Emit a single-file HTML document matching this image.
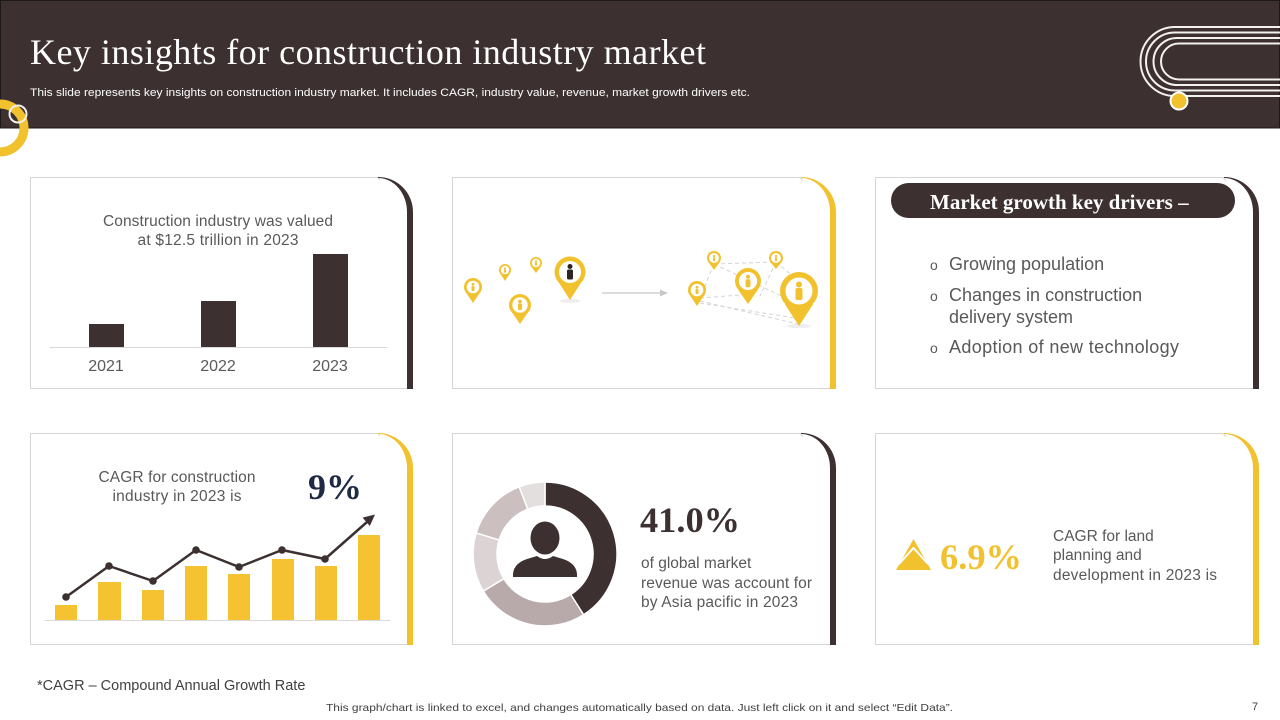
<!DOCTYPE html>
<html><head><meta charset="utf-8"><style>
html,body{margin:0;padding:0;background:#fff;}
svg{display:block;}
.s{font-family:"Liberation Sans",Arial,sans-serif;}
.r{font-family:"Liberation Serif","Times New Roman",serif;}
</style></head><body>
<svg width="1280" height="720" viewBox="0 0 1280 720" xmlns="http://www.w3.org/2000/svg">
<rect width="1280" height="720" fill="#fff"/>
<!-- header -->
<rect x="0.5" y="0.5" width="1279" height="127.5" fill="#3c3030" stroke="#1e1a1a" stroke-width="1"/>
<text x="30" y="64" class="r" font-size="36" fill="#fff" textLength="676" lengthAdjust="spacing">Key insights for construction industry market</text>
<text x="30" y="96" class="s" font-size="11" fill="#fff" textLength="720" lengthAdjust="spacingAndGlyphs">This slide represents key insights on construction industry market. It includes CAGR, industry value, revenue, market growth drivers etc.</text>
<!-- right decoration -->
<g fill="none" stroke="#f4f0ee" stroke-width="2">
<path d="M1280 27 H1175 A34.5 34.5 0 0 0 1175 96 H1280"/>
<path d="M1280 32.5 H1175 A29 29 0 0 0 1175 90.5 H1280"/>
<path d="M1280 38 H1177 A23.5 23.5 0 0 0 1177 85 H1280"/>
<path d="M1280 43.5 H1179 A18 18 0 0 0 1179 79.5 H1280"/>
</g>
<circle cx="1179" cy="101" r="8.5" fill="#f2c12e" stroke="#fff" stroke-width="2"/>
<!-- left decoration -->
<circle cx="0" cy="128" r="24" fill="none" stroke="#f2c12e" stroke-width="9"/>
<circle cx="18" cy="114" r="8.5" fill="none" stroke="#f4f0ee" stroke-width="2"/>

<!-- cards -->
<g fill="#fff" stroke="#d6d6d6" stroke-width="1">
<path d="M378 177.5 H30.5 V388.5 H410 V212 Z"/>
<path d="M800 177.5 H452.5 V388.5 H833 V212 Z"/>
<path d="M1223 177.5 H875.5 V388.5 H1256 V212 Z"/>
<path d="M378 433.5 H30.5 V644.5 H410 V468 Z"/>
<path d="M800 433.5 H452.5 V644.5 H833 V468 Z"/>
<path d="M1223 433.5 H875.5 V644.5 H1256 V468 Z"/>
</g>
<g fill="#fff">
<path d="M378 178 A31 34 0 0 1 409 212 V388 H380 V178Z"/>
<path d="M801 178 A31 34 0 0 1 832 212 V388 H803 V178Z"/>
<path d="M1224 178 A31 34 0 0 1 1255 212 V388 H1226 V178Z"/>
<path d="M378 434 A31 34 0 0 1 409 468 V644 H380 V434Z"/>
<path d="M801 434 A31 34 0 0 1 832 468 V644 H803 V434Z"/>
<path d="M1224 434 A31 34 0 0 1 1255 468 V644 H1226 V434Z"/>
</g>
<path d="M378 177 A35 35 0 0 1 413 212 V389 H407 V212 A29 34 0 0 0 378 178Z" fill="#3c3030"/>
<path d="M801 177 A35 35 0 0 1 836 212 V389 H830 V212 A29 34 0 0 0 801 178Z" fill="#f2c12e"/>
<path d="M1224 177 A35 35 0 0 1 1259 212 V389 H1253 V212 A29 34 0 0 0 1224 178Z" fill="#3c3030"/>
<path d="M378 433 A35 35 0 0 1 413 468 V645 H407 V468 A29 34 0 0 0 378 434Z" fill="#f2c12e"/>
<path d="M801 433 A35 35 0 0 1 836 468 V645 H830 V468 A29 34 0 0 0 801 434Z" fill="#3c3030"/>
<path d="M1224 433 A35 35 0 0 1 1259 468 V645 H1253 V468 A29 34 0 0 0 1224 434Z" fill="#f2c12e"/>

<!-- card 1 -->
<text x="218" y="226" class="s" font-size="15.5" fill="#595959" text-anchor="middle" textLength="230" lengthAdjust="spacing">Construction industry was valued</text>
<text x="218" y="245" class="s" font-size="15.5" fill="#595959" text-anchor="middle" textLength="161" lengthAdjust="spacing">at $12.5 trillion in 2023</text>
<rect x="89" y="324" width="35" height="23" fill="#3c3030"/>
<rect x="201" y="301" width="35" height="46" fill="#3c3030"/>
<rect x="313" y="254" width="35" height="93" fill="#3c3030"/>
<line x1="50" y1="347.5" x2="387" y2="347.5" stroke="#d9d9d9" stroke-width="1"/>
<g class="s" font-size="16" fill="#595959" text-anchor="middle">
<text x="106" y="371">2021</text><text x="218" y="371">2022</text><text x="330" y="371">2023</text>
</g>

<!-- card 2 pins -->
<g stroke="#d4d4d4" stroke-width="1" stroke-dasharray="4 3" fill="none">
<line x1="714" y1="264" x2="776" y2="262"/>
<line x1="714" y1="264" x2="700" y2="298"/>
<line x1="776" y1="262" x2="760" y2="296"/>
<line x1="714" y1="264" x2="790" y2="300"/>
<line x1="776" y1="262" x2="795" y2="278"/>
<line x1="700" y1="301" x2="798" y2="324"/>
<line x1="700" y1="303" x2="795" y2="318"/>
<line x1="700" y1="298" x2="740" y2="295"/>
</g>
<line x1="602" y1="293" x2="664" y2="293" stroke="#c8c8c8" stroke-width="1.2"/>
<polygon points="668,293 660,289.5 660,296.5" fill="#c8c8c8"/>
<g fill="#eeeeee">
<ellipse cx="570" cy="301" rx="10" ry="2"/><ellipse cx="799" cy="326" rx="12" ry="2.2"/>
</g>
<g id="pins">
<circle cx="473" cy="287" r="9" fill="#f2c12e"/><polygon points="466.3,293 479.7,293 473,303" fill="#f2c12e"/><circle cx="473" cy="287" r="6.3" fill="#fff"/><circle cx="473" cy="284.3" r="1.4" fill="#f2c12e"/><rect x="471.5" y="286" width="3" height="5" rx="1" fill="#f2c12e"/>
<circle cx="505" cy="270" r="6" fill="#f2c12e"/><polygon points="500.5,274 509.5,274 505,281" fill="#f2c12e"/><circle cx="505" cy="270" r="4.2" fill="#fff"/><circle cx="505" cy="268.2" r="1" fill="#f2c12e"/><rect x="504" y="269.3" width="2" height="3.3" fill="#f2c12e"/>
<circle cx="536" cy="263" r="6" fill="#f2c12e"/><polygon points="531.5,267 540.5,267 536,273" fill="#f2c12e"/><circle cx="536" cy="263" r="4.2" fill="#fff"/><circle cx="536" cy="261.2" r="1" fill="#f2c12e"/><rect x="535" y="262.3" width="2" height="3.3" fill="#f2c12e"/>
<circle cx="520" cy="305" r="11" fill="#f2c12e"/><polygon points="511.8,312 528.2,312 520,324" fill="#f2c12e"/><circle cx="520" cy="305" r="7.7" fill="#fff"/><circle cx="520" cy="301.5" r="1.8" fill="#f2c12e"/><rect x="518" y="303.5" width="4" height="6.5" rx="1" fill="#f2c12e"/>
<circle cx="570" cy="272" r="15.5" fill="#f2c12e"/><polygon points="558.5,282 581.5,282 570,300" fill="#f2c12e"/><circle cx="570" cy="272" r="11" fill="#fff"/><circle cx="570" cy="266.5" r="2.5" fill="#2b2424"/><rect x="567" y="269.5" width="6" height="10" rx="1.5" fill="#2b2424"/>
<circle cx="697" cy="290" r="9" fill="#f2c12e"/><polygon points="690.3,296 703.7,296 697,306" fill="#f2c12e"/><circle cx="697" cy="290" r="6.3" fill="#fff"/><circle cx="697" cy="287.3" r="1.4" fill="#f2c12e"/><rect x="695.5" y="289" width="3" height="5" rx="1" fill="#f2c12e"/>
<circle cx="714" cy="258" r="7" fill="#f2c12e"/><polygon points="708.8,262.5 719.2,262.5 714,270" fill="#f2c12e"/><circle cx="714" cy="258" r="4.9" fill="#fff"/><circle cx="714" cy="256" r="1.1" fill="#f2c12e"/><rect x="713" y="257.3" width="2" height="3.8" fill="#f2c12e"/>
<circle cx="748" cy="281" r="13" fill="#f2c12e"/><polygon points="738.3,290 757.7,290 748,304" fill="#f2c12e"/><circle cx="748" cy="281" r="9.1" fill="#fff"/><circle cx="748" cy="276.8" r="2" fill="#f2c12e"/><rect x="745.6" y="279.2" width="4.8" height="8" rx="1.2" fill="#f2c12e"/>
<circle cx="776" cy="258" r="7" fill="#f2c12e"/><polygon points="770.8,262.5 781.2,262.5 776,269" fill="#f2c12e"/><circle cx="776" cy="258" r="4.9" fill="#fff"/><circle cx="776" cy="256" r="1.1" fill="#f2c12e"/><rect x="775" y="257.3" width="2" height="3.8" fill="#f2c12e"/>
<circle cx="799" cy="291" r="19" fill="#f2c12e"/><polygon points="784.8,304 813.2,304 799,326" fill="#f2c12e"/><circle cx="799" cy="291" r="13.5" fill="#fff"/><circle cx="799" cy="284.5" r="3" fill="#f2c12e"/><rect x="795.5" y="288" width="7" height="12" rx="2" fill="#f2c12e"/>
</g>

<!-- card 3 -->
<rect x="891" y="183" width="344" height="35" rx="17.5" fill="#3c3030"/>
<text x="930" y="209" class="r" font-size="21" font-weight="bold" fill="#fff">Market growth key drivers –</text>
<g class="s" font-size="18" fill="#595959">
<text x="930" y="270" font-size="14">o</text><text x="949" y="270">Growing population</text>
<text x="930" y="301" font-size="14">o</text><text x="949" y="301">Changes in construction</text>
<text x="949" y="323">delivery system</text>
<text x="930" y="353" font-size="14">o</text><text x="949" y="353" textLength="230" lengthAdjust="spacing">Adoption of new technology</text>
</g>

<!-- card 4 -->
<text x="177" y="482" class="s" font-size="15.5" fill="#595959" text-anchor="middle" textLength="157" lengthAdjust="spacing">CAGR for construction</text>
<text x="177" y="501" class="s" font-size="15.5" fill="#595959" text-anchor="middle" textLength="129" lengthAdjust="spacing">industry in 2023 is</text>
<text x="308" y="499" class="r" font-size="36" font-weight="bold" fill="#1f2a44" textLength="54" lengthAdjust="spacingAndGlyphs">9%</text>
<g fill="#f5c232">
<rect x="55" y="605" width="22" height="15"/>
<rect x="98" y="582" width="23" height="38"/>
<rect x="142" y="590" width="22" height="30"/>
<rect x="185" y="566" width="22" height="54"/>
<rect x="228" y="574" width="22" height="46"/>
<rect x="272" y="559" width="22" height="61"/>
<rect x="315" y="566" width="22" height="54"/>
<rect x="358" y="535" width="22" height="85"/>
</g>
<line x1="45" y1="620.5" x2="390" y2="620.5" stroke="#d9d9d9" stroke-width="1"/>
<polyline points="66,597 109,566 153,581 196,550 239,567 282,550 325,559 367,522" fill="none" stroke="#3c3030" stroke-width="2.5" stroke-linejoin="round"/>
<polygon points="375,514.5 369.8,526 362.6,517.6" fill="#3c3030"/>
<g fill="#3c3030">
<circle cx="66" cy="597" r="3.8"/><circle cx="109" cy="566" r="3.8"/><circle cx="153" cy="581" r="3.8"/><circle cx="196" cy="550" r="3.8"/><circle cx="239" cy="567" r="3.8"/><circle cx="282" cy="550" r="3.8"/><circle cx="325" cy="559" r="3.8"/>
</g>

<!-- card 5 donut -->
<g stroke="#fff" stroke-width="1.5" stroke-linejoin="round">
<path d="M545,482 A72,72 0 0 1 583.58,614.79 L570.72,594.53 A48,48 0 0 0 545,506 Z" fill="#3c3030"/>
<path d="M583.58,614.79 A72,72 0 0 1 483.28,591.08 L503.85,578.72 A48,48 0 0 0 570.72,594.53 Z" fill="#b8aaab"/>
<path d="M483.28,591.08 A72,72 0 0 1 476.15,532.95 L499.10,539.96 A48,48 0 0 0 503.85,578.72 Z" fill="#dcd4d4"/>
<path d="M476.15,532.95 A72,72 0 0 1 519.20,486.78 L527.80,509.19 A48,48 0 0 0 499.10,539.96 Z" fill="#cbbfc0"/>
<path d="M519.20,486.78 A72,72 0 0 1 545,482 L545,506 A48,48 0 0 0 527.80,509.19 Z" fill="#e4dfdf"/>
</g>
<g fill="#3c3030">
<ellipse cx="545" cy="538" rx="14.5" ry="16.5"/>
<path d="M513,577 Q512,564 527,559 L537,556 Q545,562 553,556 L563,559 Q578,564 577,577 Z"/>
</g>
<text x="640" y="532" class="r" font-size="36" font-weight="bold" fill="#3c3030" textLength="100" lengthAdjust="spacingAndGlyphs">41.0%</text>
<g class="s" font-size="15.5" fill="#595959">
<text x="641" y="568">of global market</text>
<text x="641" y="588" textLength="171" lengthAdjust="spacing">revenue was account for</text>
<text x="641" y="607" textLength="157" lengthAdjust="spacing">by Asia pacific in 2023</text>
</g>

<!-- card 6 -->
<polygon points="913.5,539 896,570 931,570" fill="#f2c12e"/>
<polyline points="899,564 913.5,548 928,564" fill="none" stroke="#fff" stroke-width="2"/>
<text x="940" y="569" class="r" font-size="36" font-weight="bold" fill="#f2c12e" textLength="82" lengthAdjust="spacingAndGlyphs">6.9%</text>
<g class="s" font-size="15.5" fill="#595959">
<text x="1053" y="541">CAGR for land</text>
<text x="1053" y="560">planning and</text>
<text x="1053" y="580" textLength="164" lengthAdjust="spacing">development in 2023 is</text>
</g>

<!-- footer -->
<text x="37" y="690" class="s" font-size="14.5" fill="#404040">*CAGR – Compound Annual Growth Rate</text>
<text x="326" y="711" class="s" font-size="10.5" fill="#404040" textLength="627" lengthAdjust="spacingAndGlyphs">This graph/chart is linked to excel, and changes automatically based on data. Just left click on it and select “Edit Data”.</text>
<text x="1252" y="710" class="s" font-size="11" fill="#404040">7</text>
</svg>
</body></html>
